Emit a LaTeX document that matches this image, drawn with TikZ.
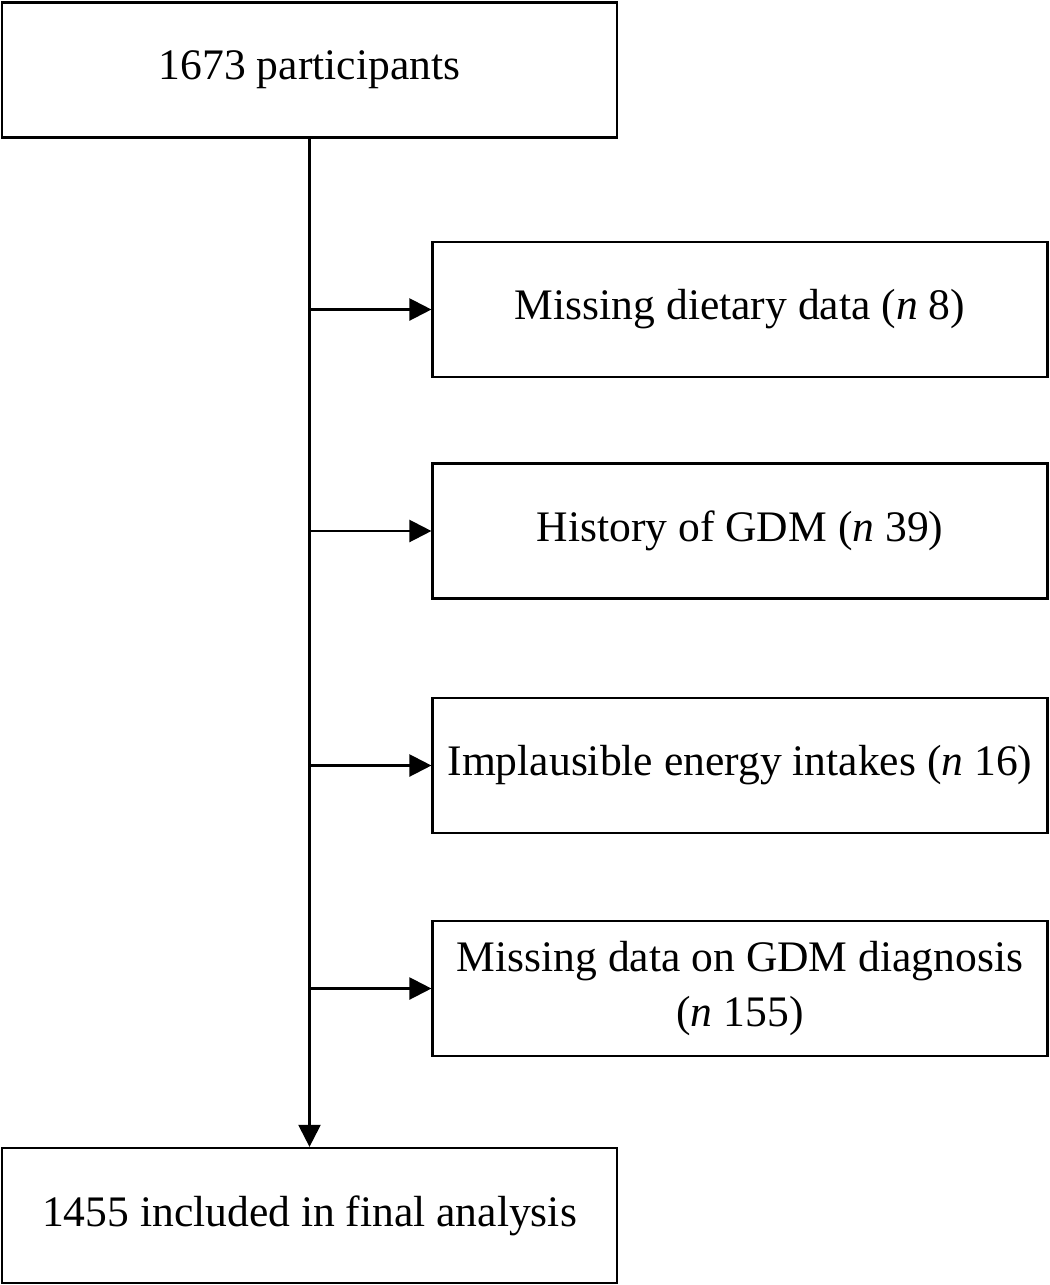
\documentclass[tikz,border=0pt]{standalone}
\usepackage{fontspec}
\setmainfont{Liberation Serif}
\usetikzlibrary{arrows.meta}

\begin{document}
\begin{tikzpicture}[
    x=0.02cm, y=-0.02cm,
    box/.style={draw, line width=1.3pt, minimum width=12.3cm, minimum height=2.7cm,
      inner sep=0pt, align=center, font=\fontsize{24.8}{31}\selectfont},
    flow/.style={line width=1.3pt, -{Triangle[length=12.5pt, width=12.5pt]}},
  ]
  \useasboundingbox (0,0) rectangle (1050,1285);

  % main column
  \node[box] (start) at (309.5,70) {1673 participants};
  \node[box] (final) at (309.5,1215.5) {1455 included in final analysis};

  % exclusion boxes
  \node[box] (diet)   at (740,309.5) {Missing dietary data (\textit{n} 8)};
  \node[box] (hist)   at (740,531)   {History of GDM (\textit{n} 39)};
  \node[box] (energy) at (740,765.5) {Implausible energy intakes (\textit{n} 16)};
  \node[box] (diag)   at (740,988.5) {Missing data on GDM diagnosis\\(\textit{n} 155)};

  % connectors
  \draw[flow] (start) -- (final);
  \foreach \b in {diet, hist, energy, diag} {
    \draw[flow] (start.south |- \b.west) -- (\b.west);
  }
\end{tikzpicture}
\end{document}
